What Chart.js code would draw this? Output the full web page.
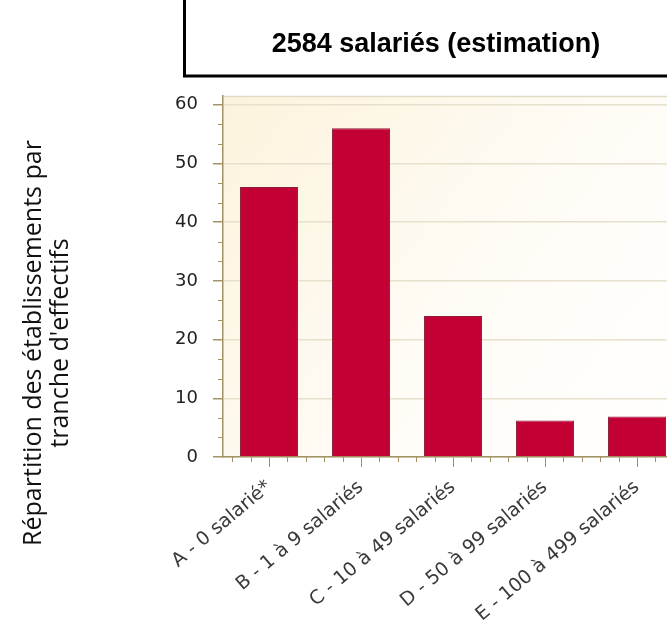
<!DOCTYPE html>
<html>
<head>
<meta charset="utf-8">
<script src="https://cdn.jsdelivr.net/npm/chart.js@4"></script>
<style>
  html, body { margin: 0; padding: 0; background: #fff; overflow: hidden; }
  #wrap { width: 667px; height: 626px; overflow: hidden; }
</style>
</head>
<body>
<div id="wrap"><canvas id="myChart" width="700" height="626"></canvas></div>
<script>
// chart data
const categories = ['A - 0 salarié*', 'B - 1 à 9 salariés', 'C - 10 à 49 salariés', 'D - 50 à 99 salariés', 'E - 100 à 499 salariés'];
const counts = [46, 56, 24, 6.2, 6.9];
const yTicks = [0, 10, 20, 30, 40, 50, 60];
const chartTitle = '2584 salariés (estimation)';
const yTitleLines = ['Répartition des établissements par', "tranche d'effectifs"];

const axisColor = '#a39263';

// cream background of the plot area
const plotBackground = {
    id: 'plotBackground',
    beforeDraw(chart) {
        const { ctx, chartArea: a } = chart;
        const g = ctx.createLinearGradient(a.left, a.top, a.right, a.bottom);
        g.addColorStop(0, '#fcf3dc');
        g.addColorStop(0.55, '#fffcf6');
        g.addColorStop(1, '#ffffff');
        ctx.save();
        ctx.fillStyle = g;
        ctx.fillRect(a.left, a.top, a.right - a.left, a.bottom - a.top);
        ctx.strokeStyle = '#e2dcc6';
        ctx.lineWidth = 1.5;
        ctx.beginPath();
        ctx.moveTo(a.left, a.top + 0.5);
        ctx.lineTo(a.right, a.top + 0.5);
        ctx.stroke();
        ctx.restore();
    }
};

// minor tick marks on both axes
const minorTicks = {
    id: 'minorTicks',
    afterDraw(chart) {
        const { ctx, scales: { x, y } } = chart;
        ctx.save();
        ctx.strokeStyle = axisColor;
        ctx.lineWidth = 1;
        ctx.beginPath();
        for (let v = 0; v <= 60; v += 10 / 3) {
            if (Math.abs(v / 10 - Math.round(v / 10)) < 0.01) continue;
            const py = Math.round(y.getPixelForValue(v)) + 0.5;
            ctx.moveTo(x.left - 5, py);
            ctx.lineTo(x.left, py);
        }
        const w = x.getPixelForValue(1) - x.getPixelForValue(0);
        categories.forEach((c, i) => {
            const cx = x.getPixelForValue(i);
            [-2, -1, 1, 2].forEach(k => {
                const px = Math.round(cx + k * w / 5) + 0.5;
                ctx.moveTo(px, y.bottom);
                ctx.lineTo(px, y.bottom + 5);
            });
        });
        ctx.stroke();
        ctx.restore();
    }
};

// boxed title and left axis title
const texts = {
    id: 'texts',
    afterDraw(chart) {
        const ctx = chart.ctx;
        ctx.save();
        ctx.strokeStyle = '#000';
        ctx.lineWidth = 3;
        ctx.strokeRect(184.5, -10, 505, 86);
        ctx.fillStyle = '#000';
        ctx.font = 'bold 27px "Liberation Sans", Arial, sans-serif';
        ctx.textAlign = 'center';
        ctx.textBaseline = 'alphabetic';
        ctx.fillText(chartTitle, 436, 52);

        ctx.translate(0, 343);
        ctx.rotate(-Math.PI / 2);
        ctx.font = '25px "Open Sans", sans-serif';
        ctx.fillStyle = '#111';
        ctx.fillText(yTitleLines[0], 0, 41);
        ctx.fillText(yTitleLines[1], 0, 68);
        ctx.restore();
    }
};

const ctx = document.getElementById('myChart').getContext('2d');
const myChart = new Chart(ctx, {
    type: 'bar',
    data: {
        labels: categories,
        datasets: [{
            data: counts,
            backgroundColor: '#c20033',
            borderColor: '#8e1d3d',
            borderWidth: 1,
            categoryPercentage: 1,
            barPercentage: 0.63
        }]
    },
    options: {
        responsive: false,
        animation: false,
        layout: { padding: { left: 0, right: 17, top: 96, bottom: 0 } },
        plugins: {
            legend: { display: false },
            tooltip: { enabled: false }
        },
        scales: {
            x: {
                offset: true,
                grid: {
                    drawOnChartArea: false,
                    tickLength: 10,
                    tickColor: axisColor,
                    offset: false
                },
                border: { color: axisColor, width: 1.5 },
                ticks: {
                    minRotation: 40,
                    maxRotation: 40,
                    padding: 9,
                    color: '#3a3a3a',
                    font: { family: '"DejaVu Sans", sans-serif', size: 19 }
                },
                afterFit(scale) { scale.height = 169; }
            },
            y: {
                min: 0,
                max: 61.5,
                afterBuildTicks(scale) {
                    scale.ticks = yTicks.map(v => ({ value: v }));
                },
                grid: {
                    color: '#e6e0cc',
                    lineWidth: 1.5,
                    tickLength: 10,
                    tickColor: axisColor
                },
                border: { color: axisColor, width: 1.5 },
                ticks: {
                    padding: 15,
                    color: '#222',
                    font: { family: '"DejaVu Sans", sans-serif', size: 18 }
                },
                afterFit(scale) { scale.width = 223; }
            }
        }
    },
    plugins: [plotBackground, minorTicks, texts]
});
</script>
</body>
</html>
